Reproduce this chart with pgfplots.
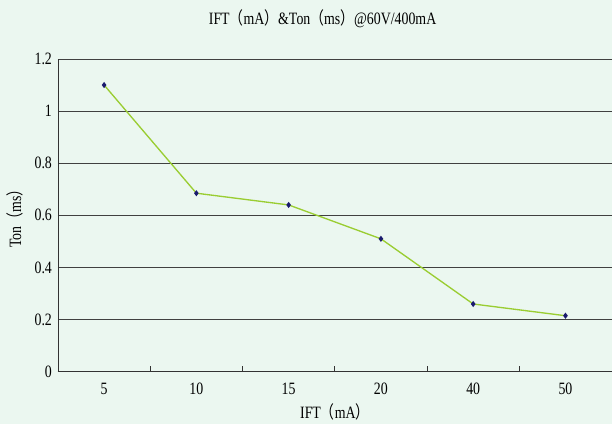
\documentclass[border=0pt]{standalone}
\usepackage{pgfplots}
\pgfplotsset{compat=1.18}
\usepackage{fontspec}
\setmainfont[FakeStretch=0.8]{Liberation Serif}
\newfontfamily\cjk[FakeStretch=0.8]{Noto Sans CJK SC}
\definecolor{bgc}{HTML}{EBF7F0}
\definecolor{linec}{HTML}{9ACD32}
\definecolor{markc}{HTML}{1A1A6E}
\begin{document}
\begin{tikzpicture}[x=1pt,y=1pt]
\fill[bgc] (0,0) rectangle (459,318);
\begin{axis}[
  at={(43.5pt,39pt)}, anchor=south west,
  scale only axis, width=415.5pt, height=234.75pt,
  xmin=0, xmax=6, ymin=0, ymax=1.2,
  axis lines=left, axis line style={-, black!80},
  xtick={0.5,1.5,2.5,3.5,4.5,5.5},
  xticklabels={5,10,15,20,40,50},
  major x tick style={draw=none},
  minor xtick={1,2,3,4,5},
  minor tick length=4pt,
  tick align=inside,
  minor x tick style={black!80, thick},
  ytick={0,0.2,...,1.2},
  yticklabels={0,0.2,0.4,0.6,0.8,1,1.2},
  major y tick style={draw=none},
  ymajorgrids, grid style={black!75, line width=0.6pt},
  /pgf/number format/assume math mode=true,
  tick label style={font=\fontsize{13}{15}\selectfont},
  xticklabel style={yshift=-5pt},
  yticklabel style={xshift=-1pt},
  xlabel={IFT{\cjk（}mA{\cjk）}},
  ylabel={Ton{\cjk（}ms{\cjk）}},
  label style={font=\fontsize{13}{15}\selectfont},
  xlabel style={yshift=0pt},
  ylabel style={yshift=2pt},
  title={IFT{\cjk（}mA{\cjk）}\&Ton{\cjk（}ms{\cjk）}@60V/400mA},
  title style={font=\fontsize{13}{15}\selectfont, at={(0.478,1)}, yshift=14pt},
  clip=false,
]
\addplot[linec, line width=1pt, mark=diamond*, mark size=1.5pt, mark options={markc, fill=markc}]
coordinates {(0.5,1.10) (1.5,0.685) (2.5,0.64) (3.5,0.51) (4.5,0.26) (5.5,0.215)};
\end{axis}
\end{tikzpicture}
\end{document}
